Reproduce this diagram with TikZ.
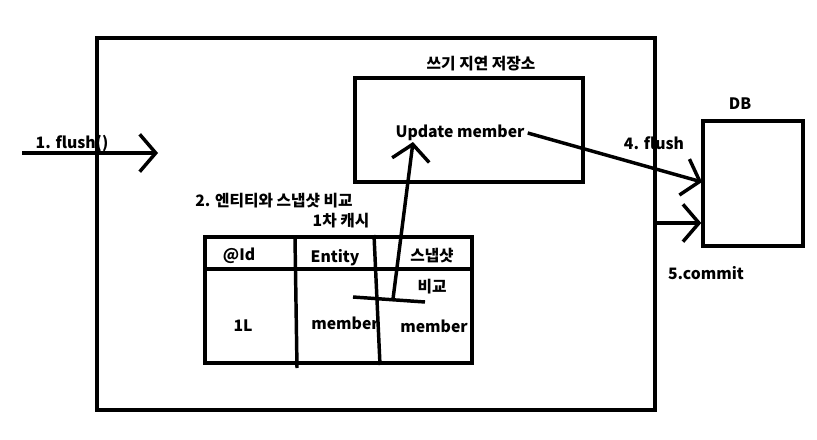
\documentclass[tikz,border=0pt]{standalone}
\usepackage{fontspec}
\setmainfont{Noto Sans CJK KR}
\usetikzlibrary{arrows.meta,fit}

\begin{document}
\begin{tikzpicture}[
        x=0.75pt, y=-0.75pt,
        every node/.style={font=\bfseries\fontsize{11.8}{13}\selectfont, inner sep=0pt},
        box/.style={draw, line width=2.6pt},
        pen/.style={line width=2.6pt},
        barb/.style={pen, -{Straight Barb[length=12pt, width=28pt, line width=2.6pt]}}
    ]
    \useasboundingbox (0,0) rectangle (817,439);
    % corners of the boxes
    \coordinate (ctxA) at (97,38);   \coordinate (ctxB) at (655,410);
    \coordinate (stA) at (355,78);   \coordinate (stB) at (583,182);
    \coordinate (dbA) at (703,121);  \coordinate (dbB) at (803,246);
    \coordinate (tbA) at (205,237);  \coordinate (tbB) at (472,363);

    \node[box, fit=(ctxA)(ctxB)] (ctx) {};
    \node[box, fit=(stA)(stB)] (store) {};
    \node[box, fit=(dbA)(dbB)] (db) {};
    \node[box, fit=(tbA)(tbB)] (cache) {};

    \node (storelbl) at (481,64) {쓰기 지연 저장소};
    \node (dblbl) at (740,104) {DB};
    \node (upd) at (460,133) {Update member};
    \node (flushlbl) at (72,143) {1. flush()};
    \node (cmplbl) at (274,201) {2. 엔티티와 스냅샷 비교};
    \node (cachelbl) at (341,221) {1차 캐시};
    \node (dbflush) at (654,143) {4. flush};
    \node (commit) at (706,273) {5.commit};

    % table
    \draw[pen] (205,269) -- (472,269);
    \draw[pen] (295,238) -- (297,368);
    \draw[pen] (374,235) -- (380,365);
    \node (idhd) at (239,256) {@Id};
    \node (enthd) at (335,258) {Entity};
    \node (snaphd) at (432,256) {스냅샷};
    \node (cmp) at (432,287) {비교};
    \node (idv) at (243,326) {1L};
    \node (entv) at (345,323) {member};
    \node (snapv) at (434,326) {member};

    % connectors
    \coordinate (in) at (22,153);
    \coordinate (inend) at (158,153);
    \draw[barb] (in) -- (inend);
    \coordinate (cmpL) at (353,297);
    \coordinate (cmpR) at (425,302);
    \coordinate (cmpM) at (393,299);
    \draw[pen] (cmpL) -- (cmpR);
    \draw[barb] (cmpM) -- (413,142);
    \coordinate (dbin) at (702,182);
    \draw[barb] (upd.east) ++(3,0) -- (dbin);
    \coordinate (ctxout) at (655,223);
    \draw[barb] (ctxout) -- (db.west |- ctxout);
\end{tikzpicture}
\end{document}
